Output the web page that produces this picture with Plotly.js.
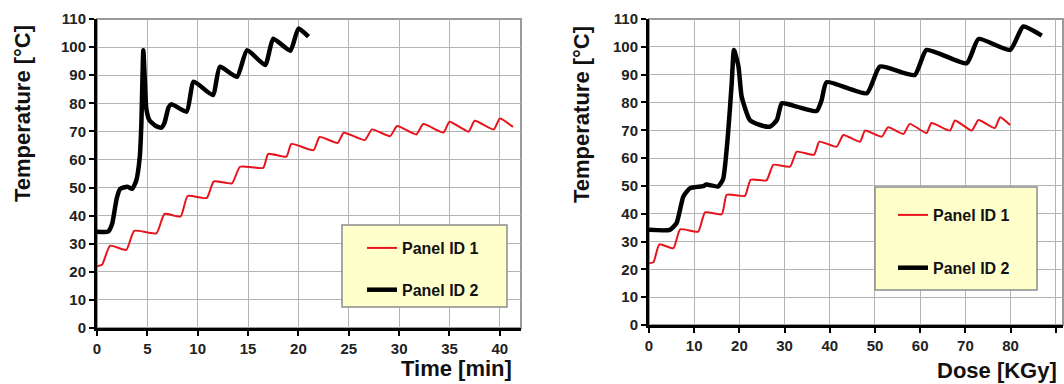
<!DOCTYPE html>
<html>
<head>
<meta charset="utf-8">
<script src="https://cdn.plot.ly/plotly-3.0.1.min.js"></script>
<style>html,body{margin:0;padding:0;background:#fff;}#chart{width:1064px;height:384px;}</style>
</head>
<body>
<div id="chart"></div>
<script>
// Left panel: temperature vs time [min]
const timeP1 = [0, 0.5, 1.3, 2.9, 3.7, 5.9, 6.7, 8.3, 9.0, 10.9, 11.6, 13.4, 14.2, 16.5, 17.0, 18.8, 19.3, 21.5, 22.1, 23.9, 24.5, 26.6, 27.3, 29.1, 29.8, 31.7, 32.4, 34.4, 35.0, 36.9, 37.5, 39.4, 40.0, 41.3];
const tempP1 = [22.0, 22.5, 29.3, 27.8, 34.6, 33.7, 40.6, 39.7, 47.0, 46.3, 52.2, 51.5, 57.4, 57.0, 62.0, 61.0, 65.5, 63.3, 68.0, 65.9, 69.5, 66.9, 70.7, 68.3, 71.9, 68.9, 72.6, 69.6, 73.4, 69.9, 73.8, 70.7, 74.6, 71.6];
const timeP2 = [0, 1.1, 1.5, 1.95, 2.3, 3.0, 3.5, 3.9, 4.25, 4.4, 4.6, 4.75, 4.9, 5.2, 5.8, 6.4, 6.7, 7.1, 7.4, 8.9, 9.6, 11.5, 12.2, 13.9, 14.9, 16.7, 17.5, 19.2, 20.0, 21.0];
const tempP2 = [34.3, 34.3, 37.0, 46.0, 49.5, 50.3, 49.6, 52.5, 61.0, 72.0, 98.9, 88.0, 78.0, 74.0, 72.0, 71.3, 73.0, 78.5, 79.7, 77.0, 87.7, 82.9, 93.0, 89.4, 98.9, 93.6, 103.0, 98.7, 106.6, 103.7];

// Right panel: temperature vs dose [KGy]
const doseP1 = [0, 1.0, 2.3, 5.4, 6.9, 10.9, 12.4, 16.1, 17.2, 21.2, 22.5, 26.0, 27.5, 31.2, 32.7, 36.5, 37.7, 41.5, 43.0, 46.7, 47.8, 51.5, 52.9, 56.3, 57.7, 61.4, 62.5, 66.6, 67.7, 71.4, 72.9, 76.5, 77.7, 79.9];
const dTempP1 = [22.2, 22.6, 29.0, 27.6, 34.4, 33.6, 40.5, 39.8, 46.8, 46.4, 52.2, 52.0, 57.6, 56.9, 62.3, 61.2, 65.9, 64.1, 68.3, 65.9, 69.9, 67.7, 71.1, 68.7, 72.3, 69.0, 72.6, 69.9, 73.5, 69.9, 73.7, 70.8, 74.7, 71.9];
const doseP2 = [0, 4.6, 6.1, 7.6, 9.1, 12.0, 12.7, 15.3, 16.4, 17.5, 18.3, 18.8, 19.8, 20.5, 22.3, 24.6, 26.8, 28.3, 29.4, 32.7, 37.1, 38.2, 39.3, 48.2, 51.1, 58.8, 61.4, 70.3, 72.9, 79.9, 82.8, 86.9];
const dTempP2 = [34.2, 34.2, 36.6, 46.2, 49.2, 49.9, 50.5, 49.8, 52.5, 69.0, 86.9, 98.9, 92.9, 82.1, 73.7, 71.9, 71.3, 73.7, 79.7, 78.5, 76.9, 80.9, 87.3, 83.3, 92.9, 89.9, 98.9, 94.1, 102.8, 98.9, 107.3, 104.0];

const seriesNames = ['Panel ID 1', 'Panel ID 2'];
const xTitles = ['Time [min]', 'Dose [KGy]'];
const yTitle = 'Temperature [°C]';

const FONT = 'Liberation Sans, Arial, Helvetica, sans-serif';
const red = '#e8141c', black = '#000000';

const traces = [
  {x: timeP1, y: tempP1, name: seriesNames[0], type: 'scatter', mode: 'lines', line: {color: red, width: 2, shape: 'spline', smoothing: 0.5}, xaxis: 'x', yaxis: 'y', legend: 'legend', legendgroup: 'a'},
  {x: timeP2, y: tempP2, name: seriesNames[1], type: 'scatter', mode: 'lines', line: {color: black, width: 4.5, shape: 'spline', smoothing: 0.5}, xaxis: 'x', yaxis: 'y', legend: 'legend', legendgroup: 'b'},
  {x: doseP1, y: dTempP1, name: seriesNames[0], type: 'scatter', mode: 'lines', line: {color: red, width: 2, shape: 'spline', smoothing: 0.5}, xaxis: 'x2', yaxis: 'y2', legend: 'legend2', legendgroup: 'c'},
  {x: doseP2, y: dTempP2, name: seriesNames[1], type: 'scatter', mode: 'lines', line: {color: black, width: 4.5, shape: 'spline', smoothing: 0.5}, xaxis: 'x2', yaxis: 'y2', legend: 'legend2', legendgroup: 'd'}
];

const tickfont = {family: FONT, size: 15, color: '#222', weight: 'bold'};
function xa(domain, range, dtick, anchor) {
  return {domain: domain, range: range, dtick: dtick, tick0: 0, anchor: anchor,
    showline: true, linecolor: '#000', linewidth: 3, ticks: 'outside', ticklen: 5, tickwidth: 2, tickcolor: '#000',
    tickfont: tickfont, showgrid: true, gridcolor: '#b4b4b4', gridwidth: 1, zeroline: false, fixedrange: true};
}
function ya(domain, anchor) {
  return {domain: domain, range: [0, 110], dtick: 10, tick0: 0, anchor: anchor,
    showline: true, linecolor: '#000', linewidth: 3, ticks: 'outside', ticklen: 5, tickwidth: 2, tickcolor: '#000',
    tickfont: tickfont, showgrid: true, gridcolor: '#b4b4b4', gridwidth: 1, zeroline: false, fixedrange: true};
}

const legendBase = {bgcolor: 'rgba(0,0,0,0)', borderwidth: 0, xanchor: 'left', yanchor: 'top',
  font: {family: FONT, size: 16, color: '#111', weight: 'bold'}, itemwidth: 30, traceorder: 'grouped'};

const titleFont = {family: FONT, size: 22, color: '#111', weight: 'bold'};

const layout = {
  width: 1064, height: 384,
  margin: {l: 0, r: 0, t: 0, b: 0},
  paper_bgcolor: '#fff', plot_bgcolor: '#fff',
  showlegend: true,
  xaxis: xa([97/1064, 521/1064], [0, 42.1], 5, 'y'),
  yaxis: ya([56/384, 365/384], 'x'),
  xaxis2: xa([649/1064, 1063/1064], [0, 91.6], 10, 'y2'),
  yaxis2: ya([59/384, 365/384], 'x2'),
  legend: Object.assign({}, legendBase, {x: 362/1064, y: (384-231)/384, tracegroupgap: 18}),
  legend2: Object.assign({}, legendBase, {x: 893/1064, y: (384-198)/384, tracegroupgap: 29}),
  shapes: [
    {type: 'rect', xref: 'x domain', yref: 'y domain', x0: 0, x1: 1, y0: 0, y1: 1, line: {color: '#9a9a9a', width: 2}, layer: 'below'},
    {type: 'rect', xref: 'x2 domain', yref: 'y2 domain', x0: 0, x1: 1, y0: 0, y1: 1, line: {color: '#9a9a9a', width: 2}, layer: 'below'},
    {type: 'rect', xref: 'paper', yref: 'paper', x0: 342/1064, x1: 507/1064, y0: (384-307)/384, y1: (384-225)/384, fillcolor: '#ffffcc', line: {color: '#8c8c8c', width: 1.5}, layer: 'above'},
    {type: 'rect', xref: 'paper', yref: 'paper', x0: 875/1064, x1: 1037/1064, y0: (384-290)/384, y1: (384-187)/384, fillcolor: '#ffffcc', line: {color: '#8c8c8c', width: 1.5}, layer: 'above'}
  ],
  annotations: [
    {text: yTitle, xref: 'paper', yref: 'paper', x: 22/1064, y: (384-114)/384, textangle: -90, showarrow: false, font: titleFont, xanchor: 'center', yanchor: 'middle'},
    {text: yTitle, xref: 'paper', yref: 'paper', x: 582/1064, y: (384-115)/384, textangle: -90, showarrow: false, font: titleFont, xanchor: 'center', yanchor: 'middle'},
    {text: xTitles[0], xref: 'paper', yref: 'paper', x: 514/1064, y: (384-368)/384, showarrow: false, font: titleFont, xanchor: 'right', yanchor: 'middle'},
    {text: xTitles[1], xref: 'paper', yref: 'paper', x: 1059/1064, y: (384-370)/384, showarrow: false, font: titleFont, xanchor: 'right', yanchor: 'middle'}
  ]
};

Plotly.newPlot('chart', traces, layout, {staticPlot: true, displayModeBar: false});
</script>
</body>
</html>
